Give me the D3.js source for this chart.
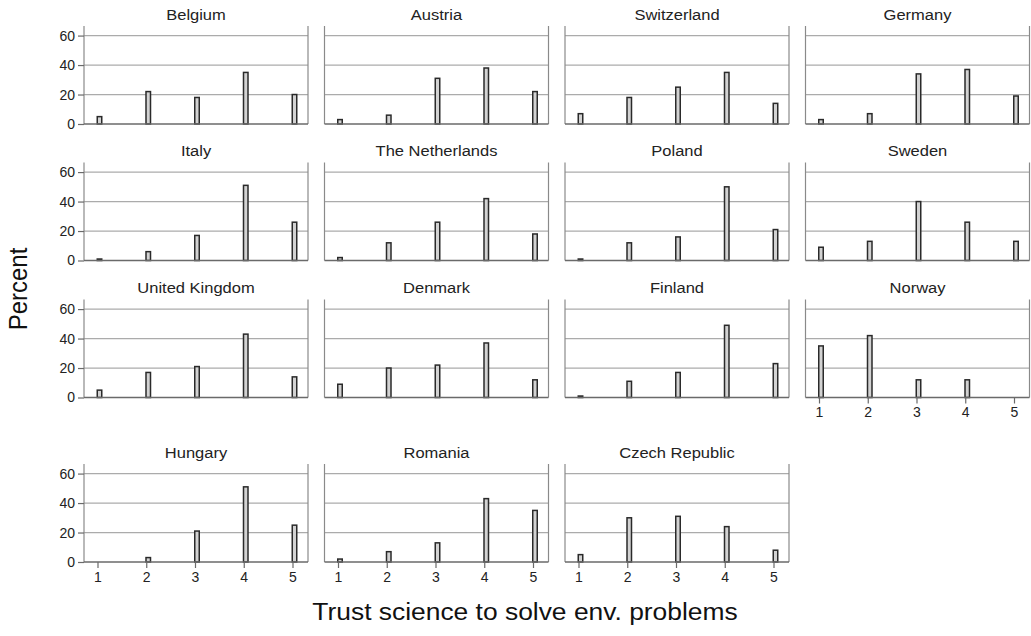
<!DOCTYPE html>
<html>
<head>
<meta charset="utf-8">
<script src="https://cdn.jsdelivr.net/npm/d3@7"></script>
<style>
  html, body { margin: 0; padding: 0; background: #fff; }
  svg { display: block; font-family: "Liberation Sans", Arial, Helvetica, sans-serif; }
</style>
</head>
<body>
<svg id="chart" width="1031" height="636"></svg>
<script>
// ---- Data (percent of respondents per answer category) ----
const categories = [1, 2, 3, 4, 5];
const yTickValues = [0, 20, 40, 60];
const countries = [
  "Belgium", "Austria", "Switzerland", "Germany",
  "Italy", "The Netherlands", "Poland", "Sweden",
  "United Kingdom", "Denmark", "Finland", "Norway",
  "Hungary", "Romania", "Czech Republic"
];
const belgium       = [5, 22, 18, 35, 20];
const austria       = [3, 6, 31, 38, 22];
const switzerland   = [7, 18, 25, 35, 14];
const germany       = [3, 7, 34, 37, 19];
const italy         = [1, 6, 17, 51, 26];
const netherlands   = [2, 12, 26, 42, 18];
const poland        = [1, 12, 16, 50, 21];
const sweden        = [9, 13, 40, 26, 13];
const unitedKingdom = [5, 17, 21, 43, 14];
const denmark       = [9, 20, 22, 37, 12];
const finland       = [1, 11, 17, 49, 23];
const norway        = [35, 42, 12, 12, 0];
const hungary       = [0, 3, 21, 51, 25];
const romania       = [2, 7, 13, 43, 35];
const czechRepublic = [5, 30, 31, 24, 8];
const seriesList = [belgium, austria, switzerland, germany, italy, netherlands, poland, sweden,
  unitedKingdom, denmark, finland, norway, hungary, romania, czechRepublic];
// panels that show x-axis labels (bottom of each column)
const showXLabels = ["Norway", "Hungary", "Romania", "Czech Republic"];

// ---- Layout ----
const svg = d3.select("#chart");
const colLeft = [84, 324.5, 565, 805.5];
const panelW = 224;
const rowZero = [124, 260.5, 397.5, 562];
const panelH = 98;
const yMax = 66.5;
const stretch = 1.1;

const gridColor = "#ababab";
const sideColor = "#8a8a8a";
const axisColor = "#6a6a6a";

countries.forEach((name, i) => {
  const r = Math.floor(i / 4), c = i % 4;
  const left = colLeft[c], right = left + panelW;
  const zero = rowZero[r], top = zero - panelH;
  const values = seriesList[i];

  const x = d3.scaleLinear().domain([1, 5]).range([left + 13.5, left + 208.5]);
  const y = d3.scaleLinear().domain([0, yMax]).range([zero, zero - panelH]);

  const g = svg.append("g");

  // gridlines
  g.selectAll("line.grid").data(yTickValues.filter(v => v > 0)).join("line")
    .attr("x1", left).attr("x2", right)
    .attr("y1", d => y(d)).attr("y2", d => y(d))
    .attr("stroke", gridColor).attr("stroke-width", 1.2);

  // panel side lines
  g.append("line").attr("x1", left).attr("x2", left).attr("y1", top).attr("y2", zero)
    .attr("stroke", sideColor).attr("stroke-width", 1.2);
  g.append("line").attr("x1", right).attr("x2", right).attr("y1", top).attr("y2", zero)
    .attr("stroke", sideColor).attr("stroke-width", 1.2);

  // y axis ticks/labels for the first column
  if (c === 0) {
    const yAxis = d3.axisLeft(y).tickValues(yTickValues).tickSize(6).tickPadding(3);
    const ya = svg.append("g").attr("transform", `translate(${left},0)`).call(yAxis);
    ya.select(".domain").remove();
    ya.selectAll(".tick line").attr("stroke", axisColor).attr("stroke-width", 1.2);
    ya.selectAll(".tick text").attr("font-size", 14).attr("fill", "#222")
      .attr("font-family", "'Liberation Sans', Arial, sans-serif");
  }

  // x axis (zero line)
  const showX = showXLabels.includes(name);
  const xAxis = d3.axisBottom(x).tickValues(categories).tickFormat(d3.format("d"))
    .tickSize(showX ? 6 : 0).tickPadding(4);
  const xa = svg.append("g").attr("transform", `translate(0,${zero})`).call(xAxis);
  xa.select(".domain").attr("d", `M${left},0H${right}`).attr("stroke", axisColor).attr("stroke-width", 1.4);
  xa.selectAll(".tick line").attr("stroke", axisColor).attr("stroke-width", 1.2);
  if (showX) {
    xa.selectAll(".tick text").attr("font-size", 14).attr("fill", "#222")
      .attr("font-family", "'Liberation Sans', Arial, sans-serif");
  } else {
    xa.selectAll(".tick text").remove();
  }

  // bars
  const data = categories.map((cat, k) => ({ cat, v: values[k] })).filter(d => d.v > 0);
  g.selectAll("rect.bar").data(data).join("rect")
    .attr("x", d => x(d.cat) - 0.25)
    .attr("width", 4.5)
    .attr("y", d => y(d.v))
    .attr("height", d => zero - y(d.v))
    .attr("fill", "#d2d2d2")
    .attr("stroke", "#2a2a2a")
    .attr("stroke-width", 1.5);

  // panel title
  g.append("text")
    .attr("transform", `translate(${(left + right) / 2},${top - 6.5}) scale(${stretch},1)`)
    .attr("text-anchor", "middle").attr("font-size", 15).attr("fill", "#222")
    .text(name);
});

// axis titles
svg.append("text")
  .attr("transform", "translate(27,289) rotate(-90) scale(1,1.1)")
  .attr("text-anchor", "middle").attr("font-size", 24).attr("fill", "#111")
  .text("Percent");
svg.append("text")
  .attr("transform", `translate(525,620) scale(${stretch},1)`)
  .attr("text-anchor", "middle").attr("font-size", 24).attr("fill", "#111")
  .text("Trust science to solve env. problems");
</script>
</body>
</html>
